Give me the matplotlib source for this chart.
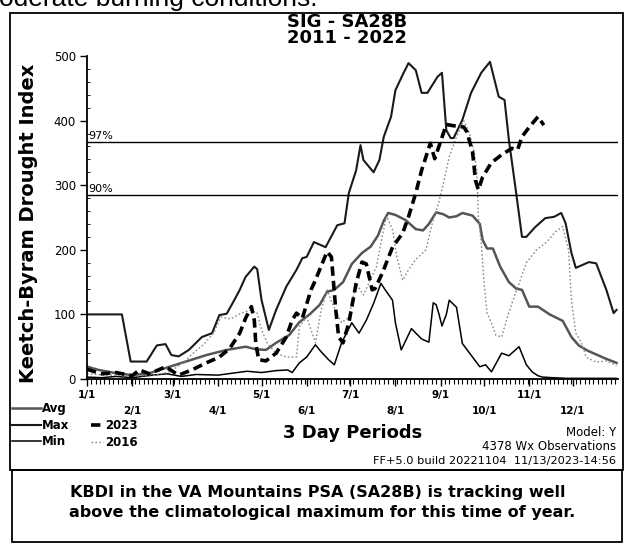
import matplotlib
matplotlib.use('Agg')
import matplotlib.pyplot as plt
from matplotlib.patches import Rectangle

# ---------------- data (day of year, KBDI) ----------------
avg_days = [0, 8, 20, 31, 43, 54, 68, 82, 96, 109, 116, 123, 130, 139, 146, 153, 160, 165, 170, 176,
            182, 189, 195, 200, 204, 207, 212, 219, 226, 231, 235, 240, 245, 249, 254, 258, 265, 270,
            272, 275, 279, 284, 290, 295, 299, 304, 310, 318, 327, 333, 338, 344, 350, 356, 364]
avg_vals = [19, 14, 9, 6, 9, 17, 27, 37, 45, 50, 46, 45, 56, 68, 88, 100, 115, 135, 138, 150,
            178, 195, 205, 222, 245, 257, 254, 246, 232, 230, 240, 258, 255, 250, 252, 257, 253, 240,
            215, 202, 202, 174, 150, 140, 138, 112, 112, 100, 90, 65, 52, 44, 38, 32, 25]

max_days = [0, 24, 30, 41, 48, 54, 58, 63, 70, 79, 86, 91, 96, 100, 105, 109, 115, 117, 120, 125,
            130, 137, 144, 148, 151, 156, 164, 172, 177, 180, 185, 188, 190, 197, 201, 204, 209, 212,
            217, 221, 226, 230, 234, 241, 244, 247, 250, 252, 258, 264, 271, 277, 283, 287, 290, 295,
            299, 302, 308, 315, 321, 326, 329, 333, 336, 340, 345, 350, 357, 362, 364]
max_vals = [100, 100, 27, 27, 52, 54, 37, 35, 45, 65, 71, 99, 101, 117, 138, 158, 174, 170, 122, 76,
            107, 143, 169, 187, 189, 212, 204, 238, 241, 288, 323, 362, 339, 320, 339, 375, 406, 447,
            471, 489, 478, 443, 443, 468, 474, 385, 373, 373, 401, 443, 474, 491, 437, 432, 370, 288,
            220, 220, 235, 249, 251, 257, 241, 195, 172, 176, 181, 179, 138, 102, 107]

min_days = [0, 10, 20, 31, 45, 55, 65, 75, 90, 100, 110, 120, 130, 138, 141, 146, 151, 157, 161, 166,
            170, 175, 182, 187, 192, 197, 202, 205, 210, 212, 216, 223, 230, 235, 238, 240, 242, 244,
            247, 249, 254, 258, 265, 270, 274, 278, 285, 290, 297, 302, 306, 310, 313, 320, 330, 364]
min_vals = [3, 2, 4, 2, 6, 8, 4, 7, 6, 9, 12, 10, 13, 14, 10, 25, 34, 53, 42, 30,
            22, 56, 87, 71, 91, 117, 148, 138, 122, 87, 45, 78, 62, 57, 118, 115, 100, 82,
            100, 122, 111, 55, 34, 19, 22, 11, 40, 36, 50, 22, 11, 5, 3, 2, 1, 1]

y2023_days = [0, 10, 20, 31, 36, 43, 54, 63, 72, 82, 91, 98, 105, 109, 113, 115, 116, 118, 123, 130,
              137, 141, 144, 148, 154, 157, 165, 168, 171, 173, 176, 180, 185, 189, 192, 196, 198,
              203, 210, 217, 221, 226, 230, 236, 239, 241, 247, 252, 259, 261, 265, 267, 269, 272,
              278, 285, 292, 296, 299, 304, 310, 314]
y2023_vals = [15, 8, 10, 5, 14, 8, 19, 6, 14, 25, 34, 47, 71, 94, 112, 91, 56, 30, 28, 40,
              65, 91, 102, 94, 138, 153, 197, 189, 107, 65, 56, 87, 148, 181, 178, 138, 140,
              164, 204, 226, 251, 288, 323, 365, 341, 354, 394, 392, 390, 383, 352, 308, 293, 313,
              335, 347, 357, 355, 375, 390, 406, 393]

y2016_days = [0, 15, 30, 45, 57, 67, 73, 80, 87, 92, 99, 106, 113, 117, 120, 124, 130, 137, 144, 146,
              151, 157, 161, 165, 168, 175, 180, 185, 190, 199, 203, 206, 210, 213, 217, 221, 226,
              233, 237, 242, 245, 249, 254, 259, 263, 266, 268, 269, 271, 273, 275, 278, 281, 285,
              289, 292, 297, 302, 309, 316, 322, 327, 331, 333, 336, 340, 343, 350, 357, 364]
y2016_vals = [8, 6, 5, 5, 11, 27, 40, 53, 71, 96, 93, 102, 107, 102, 76, 55, 40, 34, 34, 81,
              96, 56, 107, 138, 120, 87, 96, 148, 130, 174, 222, 252, 231, 189, 153, 169, 185,
              200, 238, 275, 303, 344, 375, 400, 380, 352, 322, 251, 210, 148, 102, 87, 68, 65,
              96, 117, 148, 180, 200, 212, 228, 236, 200, 122, 71, 56, 34, 26, 28, 21]

pct97, pct90 = 367, 285
month_days = [0, 31, 59, 90, 120, 151, 181, 212, 243, 273, 304, 334]
month_labels = ['1/1', '2/1', '3/1', '4/1', '5/1', '6/1', '7/1', '8/1', '9/1', '10/1', '11/1', '12/1']
y_ticks = [0, 100, 200, 300, 400, 500]

# ---------------- figure ----------------
W, H = 628, 544
fig = plt.figure(figsize=(6.28, 5.44), dpi=100)
fig.patch.set_facecolor('white')
def fx(p): return p / W
def fy(p): return 1 - p / H

ax = fig.add_axes([fx(87), fy(379), fx(618) - fx(87), fy(56) - fy(379)])
ax.set_xlim(0, 365)
ax.set_ylim(0, 500)
for s in ['top', 'right']:
    ax.spines[s].set_visible(False)
for s in ['left', 'bottom']:
    ax.spines[s].set_linewidth(1.3)

l_avg, = ax.plot(avg_days, avg_vals, color='#555555', lw=1.8, label='Avg')
l_max, = ax.plot(max_days, max_vals, color='#1a1a1a', lw=1.5, label='Max')
l_min, = ax.plot(min_days, min_vals, color='black', lw=1.1, label='Min')
l_16, = ax.plot(y2016_days, y2016_vals, color='#8a8a8a', lw=1.0, dashes=(1.2, 1.6), label='2016')
l_23, = ax.plot(y2023_days, y2023_vals, color='black', lw=2.6, dashes=(2.6, 1.4), label='2023')

ax.axhline(pct97, color='black', lw=1.0)
ax.axhline(pct90, color='black', lw=1.0)
ax.text(1, pct97 + 2, '97%', fontsize=8, va='bottom', ha='left')
ax.text(1, pct90 + 2, '90%', fontsize=8, va='bottom', ha='left')

ax.set_xticks(month_days)
ax.set_xticklabels(month_labels, fontsize=7.5, fontweight='bold')
ax.set_xticks(list(range(0, 366, 3)), minor=True)
ax.tick_params(axis='x', which='major', direction='out', length=5, width=1.0)
ax.tick_params(axis='x', which='minor', direction='out', length=3.5, width=0.8)
for i, t in enumerate(ax.xaxis.get_major_ticks()):
    t.set_pad(3 if i % 2 == 0 else 14.5)

ax.set_yticks(y_ticks)
ax.set_yticklabels([str(v) for v in y_ticks], fontsize=8.5)
ax.set_yticks(list(range(0, 501, 20)), minor=True)
ax.tick_params(axis='y', which='major', direction='out', length=5, width=1.0, pad=3)
ax.tick_params(axis='y', which='minor', direction='in', length=2, width=0.6)

# ---------------- texts ----------------
fig.text(fx(347), fy(30), 'SIG - SA28B\n2011 - 2022', fontsize=13, fontweight='bold',
         ha='center', va='center', linespacing=0.85)
fig.text(fx(29), fy(223), 'Keetch-Byram Drought Index', fontsize=14, fontweight='bold',
         rotation=90, ha='center', va='center')
fig.text(fx(353), fy(433), '3 Day Periods', fontsize=13, fontweight='bold', ha='center', va='center')
fig.text(fx(616), fy(432), 'Model: Y', fontsize=8.5, ha='right', va='center')
fig.text(fx(616), fy(447), '4378 Wx Observations', fontsize=8.5, ha='right', va='center')
fig.text(fx(616), fy(461), 'FF+5.0 build 20221104  11/13/2023-14:56', fontsize=8.2, ha='right', va='center')
fig.text(fx(318), fy(493), 'KBDI in the VA Mountains PSA (SA28B) is tracking well',
         fontsize=11.5, fontweight='bold', ha='center', va='center')
fig.text(fx(322), fy(512), 'above the climatological maximum for this time of year.',
         fontsize=11.5, fontweight='bold', ha='center', va='center')
fig.text(fx(-1), fy(6), 'oderate burning conditions.', fontsize=19, family='Liberation Sans',
         ha='left', va='baseline')

# ---------------- legends ----------------
leg1 = fig.legend(handles=[l_avg, l_max, l_min], loc='upper left',
                  bbox_to_anchor=(fx(4), fy(394)), frameon=False,
                  handlelength=2.4, handletextpad=0.15, labelspacing=0.3, borderpad=0.2,
                  prop={'weight': 'bold', 'size': 8.5})
leg2 = fig.legend(handles=[l_23, l_16], loc='upper left',
                  bbox_to_anchor=(fx(83), fy(411)), frameon=False,
                  handlelength=1.0, handletextpad=0.15, labelspacing=0.3, borderpad=0.2,
                  prop={'weight': 'bold', 'size': 8.5})

# ---------------- frames ----------------
fig.add_artist(Rectangle((fx(10), fy(470)), fx(623) - fx(10), fy(13) - fy(470),
                         transform=fig.transFigure, fill=False, lw=1.3, ec='black'))
fig.add_artist(Rectangle((fx(12), fy(542)), fx(622) - fx(12), fy(470) - fy(542),
                         transform=fig.transFigure, fill=False, lw=1.3, ec='black'))

fig.savefig('out.png', dpi=100)
